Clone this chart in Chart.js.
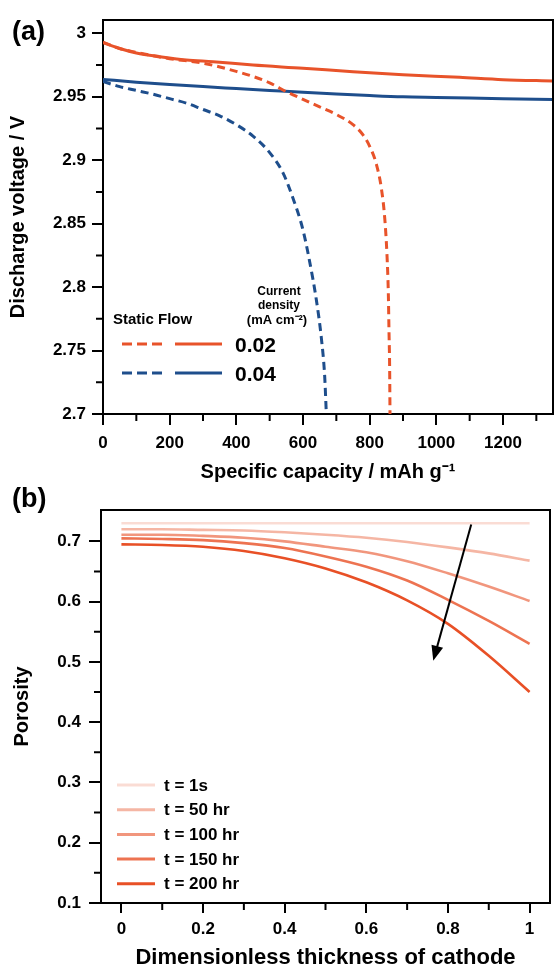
<!DOCTYPE html>
<html><head><meta charset="utf-8">
<script src="https://cdn.jsdelivr.net/npm/chart.js"></script>
<style>
html,body{margin:0;padding:0;background:#fff;}
#wrap{position:relative;width:555px;height:970px;overflow:hidden;background:#fff;}
canvas{position:absolute;left:0;}
#c1{top:0;}
#c2{top:485px;}
.lab{position:absolute;font-family:'Liberation Sans',Arial,sans-serif;font-weight:bold;font-size:27px;line-height:27px;color:#000;z-index:2;}
</style></head>
<body><div id="wrap">
<canvas id="c1" width="555" height="485"></canvas>
<canvas id="c2" width="555" height="485"></canvas>
<div class="lab" style="left:12px;top:18px">(a)</div>
<div class="lab" style="left:12px;top:485px">(b)</div>
</div>
<script>
// ---------- Panel (a) data ----------
const capTicks = [0, 200, 400, 600, 800, 1000, 1200];
const capMinorTicks = [100, 300, 500, 700, 900, 1100, 1300];
const voltTicks = [2.7, 2.75, 2.8, 2.85, 2.9, 2.95, 3];
const voltMinorTicks = [2.725, 2.775, 2.825, 2.875, 2.925, 2.975];

const flow002Cap = [0, 50, 100, 170, 250, 330, 450, 600, 750, 900, 1070, 1200, 1350];
const flow002V   = [2.9926, 2.988, 2.9845, 2.9816, 2.979, 2.9776, 2.975, 2.9725, 2.9697, 2.9674, 2.9653, 2.9635, 2.9624];

const flow004Cap = [0, 100, 200, 300, 400, 500, 600, 700, 800, 900, 1000, 1100, 1200, 1350];
const flow004V   = [2.9637, 2.9615, 2.9597, 2.958, 2.9565, 2.955, 2.9535, 2.9522, 2.951, 2.950, 2.9495, 2.949, 2.9485, 2.9479];

const static002Cap = [0, 50, 100, 200, 300, 400, 450, 500, 550, 600, 650, 700, 750, 780, 800, 820, 835, 845, 852, 856, 858, 860, 861];
const static002V   = [2.993, 2.988, 2.985, 2.980, 2.9765, 2.970, 2.966, 2.961, 2.954, 2.948, 2.942, 2.936, 2.928, 2.920, 2.911, 2.897, 2.878, 2.855, 2.825, 2.795, 2.765, 2.735, 2.70];

const static004Cap = [0, 50, 100, 150, 200, 250, 300, 350, 400, 450, 500, 540, 570, 600, 620, 640, 655, 665, 670];
const static004V   = [2.962, 2.958, 2.955, 2.952, 2.9485, 2.945, 2.940, 2.935, 2.928, 2.919, 2.906, 2.89, 2.87, 2.845, 2.82, 2.79, 2.76, 2.73, 2.70];

// ---------- Panel (b) data ----------
const thickTicks = [0, 0.2, 0.4, 0.6, 0.8, 1];
const thickMinorTicks = [0.1, 0.3, 0.5, 0.7, 0.9];
const porTicks = [0.1, 0.2, 0.3, 0.4, 0.5, 0.6, 0.7];
const porMinorTicks = [0.15, 0.25, 0.35, 0.45, 0.55, 0.65];

const thickX = [0, 0.1, 0.2, 0.3, 0.4, 0.5, 0.6, 0.7, 0.8, 0.9, 1.0];
const por1s    = [0.730, 0.730, 0.730, 0.730, 0.730, 0.730, 0.730, 0.730, 0.730, 0.730, 0.730];
const por50hr  = [0.720, 0.720, 0.719, 0.718, 0.715, 0.711, 0.706, 0.699, 0.690, 0.680, 0.668];
const por100hr = [0.711, 0.711, 0.709, 0.706, 0.700, 0.691, 0.682, 0.667, 0.647, 0.625, 0.601];
const por150hr = [0.705, 0.704, 0.702, 0.697, 0.689, 0.675, 0.658, 0.635, 0.603, 0.568, 0.530];
const por200hr = [0.695, 0.694, 0.691, 0.684, 0.672, 0.655, 0.632, 0.602, 0.563, 0.510, 0.450];
const timeLabels = ['t = 1s', 't = 50 hr', 't = 100 hr', 't = 150 hr', 't = 200 hr'];
const arrowFrom = {x: 0.857, y: 0.728};
const arrowTo   = {x: 0.764, y: 0.502};

// ---------- styles ----------
const FONT = "'Liberation Sans', Arial, sans-serif";
const ORANGE = '#E8532A';
const BLUE = '#1E4E8C';
const tAlpha = [0.2, 0.42, 0.6, 0.8, 1];
const tColor = a => `rgba(232,80,38,${a})`;
const pts = (xs, ys) => xs.map((x, i) => ({x, y: ys[i]}));
const fmt = v => String(Number(Number(v).toFixed(3)));

function axis(opts) {
  return {
    type: 'linear', min: opts.min, max: opts.max,
    afterBuildTicks: s => { s.ticks = opts.ticks.map(v => ({value: v})); },
    afterFit: s => { if (opts.w) s.width = opts.w; if (opts.h) s.height = opts.h; },
    ticks: {font: {family: FONT, size: 17, weight: 'bold', lineHeight: 1}, color: '#000',
            padding: opts.pad, autoSkip: false, maxRotation: 0, callback: v => fmt(v)},
    grid: {drawOnChartArea: false, drawTicks: true, tickLength: opts.tl, color: '#000', lineWidth: 2, tickWidth: 2},
    border: {display: true, color: '#000', width: 2},
    title: {display: true, text: opts.title, color: '#000',
            font: {family: FONT, size: opts.tsize || 20, weight: 'bold', lineHeight: 1}, padding: opts.tpad}
  };
}

function frame(chart, xMinor, yMinor, len) {
  const {ctx, chartArea: a, scales: {x, y}} = chart;
  ctx.save();
  ctx.strokeStyle = '#000'; ctx.lineWidth = 2;
  ctx.beginPath();
  ctx.moveTo(a.left, a.top); ctx.lineTo(a.right, a.top); ctx.lineTo(a.right, a.bottom + 1);
  xMinor.forEach(v => { const p = x.getPixelForValue(v); ctx.moveTo(p, a.bottom); ctx.lineTo(p, a.bottom + len); });
  yMinor.forEach(v => { const p = y.getPixelForValue(v); ctx.moveTo(a.left, p); ctx.lineTo(a.left - len, p); });
  ctx.stroke();
  ctx.restore();
}

const baseOpts = {animation: false, responsive: false, events: [],
  plugins: {legend: {display: false}, tooltip: {enabled: false}}};

// ---------- Chart (a) ----------
new Chart(document.getElementById('c1'), {
  type: 'line',
  data: {datasets: [
    {data: pts(static002Cap, static002V), borderColor: ORANGE, borderWidth: 3, borderDash: [8, 5], pointRadius: 0, cubicInterpolationMode: 'monotone'},
    {data: pts(static004Cap, static004V), borderColor: BLUE, borderWidth: 3, borderDash: [8, 5], pointRadius: 0, cubicInterpolationMode: 'monotone'},
    {data: pts(flow004Cap, flow004V), borderColor: BLUE, borderWidth: 3, pointRadius: 0, cubicInterpolationMode: 'monotone'},
    {data: pts(flow002Cap, flow002V), borderColor: ORANGE, borderWidth: 3, pointRadius: 0, cubicInterpolationMode: 'monotone'}
  ]},
  options: Object.assign({}, baseOpts, {
    layout: {padding: {top: 20, right: 2, left: 0, bottom: 0}},
    scales: {
      x: axis({min: 0, max: 1350, ticks: capTicks, h: 71, pad: 10, tl: 11, title: 'Specific capacity / mAh g\u207B\u00B9', tpad: {top: 0, bottom: 3}}),
      y: axis({min: 2.7, max: 3.0105, ticks: voltTicks, w: 103, pad: 6, tl: 11, title: 'Discharge voltage / V', tpad: {top: 8, bottom: 0}})
    }
  }),
  plugins: [{id: 'decorA', afterDraw(chart) {
    frame(chart, capMinorTicks, voltMinorTicks, 7);
    const ctx = chart.ctx;
    ctx.save();
    ctx.fillStyle = '#000';
    ctx.textBaseline = 'middle';
    ctx.textAlign = 'center';
    ctx.font = `bold 12px ${FONT}`;
    ctx.fillText('Current', 279, 292);
    ctx.fillText('density', 279, 306);
    ctx.font = `bold 13px ${FONT}`;
    ctx.fillText('(mA cm\u207B\u00B2)', 277, 320);
    ctx.textAlign = 'left';
    ctx.font = `bold 15px ${FONT}`;
    ctx.fillText('Static Flow', 113, 320);
    const rows = [{c: ORANGE, y: 344, t: '0.02'}, {c: BLUE, y: 373, t: '0.04'}];
    rows.forEach(r => {
      ctx.strokeStyle = r.c; ctx.lineWidth = 3;
      ctx.setLineDash([10, 5]);
      ctx.beginPath(); ctx.moveTo(122, r.y); ctx.lineTo(162, r.y); ctx.stroke();
      ctx.setLineDash([]);
      ctx.beginPath(); ctx.moveTo(175, r.y); ctx.lineTo(222, r.y); ctx.stroke();
      ctx.fillStyle = '#000';
      ctx.font = `bold 21px ${FONT}`;
      ctx.fillText(r.t, 235, r.y + 2);
    });
    ctx.restore();
  }}]
});

// ---------- Chart (b) ----------
const porSeries = [por1s, por50hr, por100hr, por150hr, por200hr];
new Chart(document.getElementById('c2'), {
  type: 'line',
  data: {datasets: porSeries.map((s, i) => ({
    data: pts(thickX, s), borderColor: tColor(tAlpha[i]), borderWidth: 2.6, pointRadius: 0, cubicInterpolationMode: 'monotone'
  }))},
  options: Object.assign({}, baseOpts, {
    layout: {padding: {top: 25, right: 5, left: 0, bottom: 0}},
    scales: {
      x: axis({min: -0.05, max: 1.05, ticks: thickTicks, h: 67, pad: 8, tl: 10, title: 'Dimensionless thickness of cathode', tsize: 22, tpad: {top: 0, bottom: 1}}),
      y: axis({min: 0.1, max: 0.752, ticks: porTicks, w: 101, pad: 8, tl: 12, title: 'Porosity', tpad: {top: 12, bottom: 0}})
    }
  }),
  plugins: [{id: 'decorB', afterDraw(chart) {
    frame(chart, thickMinorTicks, porMinorTicks, 7);
    const {ctx, scales: {x, y}} = chart;
    ctx.save();
    // legend
    ctx.textBaseline = 'middle'; ctx.textAlign = 'left';
    ctx.font = `bold 17px ${FONT}`;
    timeLabels.forEach((t, i) => {
      const yy = 300 + i * 24.7;
      ctx.strokeStyle = tColor(tAlpha[i]); ctx.lineWidth = 3;
      ctx.beginPath(); ctx.moveTo(117, yy); ctx.lineTo(155, yy); ctx.stroke();
      ctx.fillStyle = '#000';
      ctx.fillText(t, 164, yy + 1);
    });
    // arrow
    const x1 = x.getPixelForValue(arrowFrom.x), y1 = y.getPixelForValue(arrowFrom.y);
    const x2 = x.getPixelForValue(arrowTo.x), y2 = y.getPixelForValue(arrowTo.y);
    const ang = Math.atan2(y2 - y1, x2 - x1);
    const hl = 15, hw = 6;
    ctx.strokeStyle = '#000'; ctx.fillStyle = '#000'; ctx.lineWidth = 2;
    ctx.beginPath(); ctx.moveTo(x1, y1);
    ctx.lineTo(x2 - hl * 0.8 * Math.cos(ang), y2 - hl * 0.8 * Math.sin(ang)); ctx.stroke();
    ctx.beginPath();
    ctx.moveTo(x2, y2);
    ctx.lineTo(x2 - hl * Math.cos(ang) + hw * Math.sin(ang), y2 - hl * Math.sin(ang) - hw * Math.cos(ang));
    ctx.lineTo(x2 - hl * Math.cos(ang) - hw * Math.sin(ang), y2 - hl * Math.sin(ang) + hw * Math.cos(ang));
    ctx.closePath(); ctx.fill();
    ctx.restore();
  }}]
});
</script>
</body></html>
